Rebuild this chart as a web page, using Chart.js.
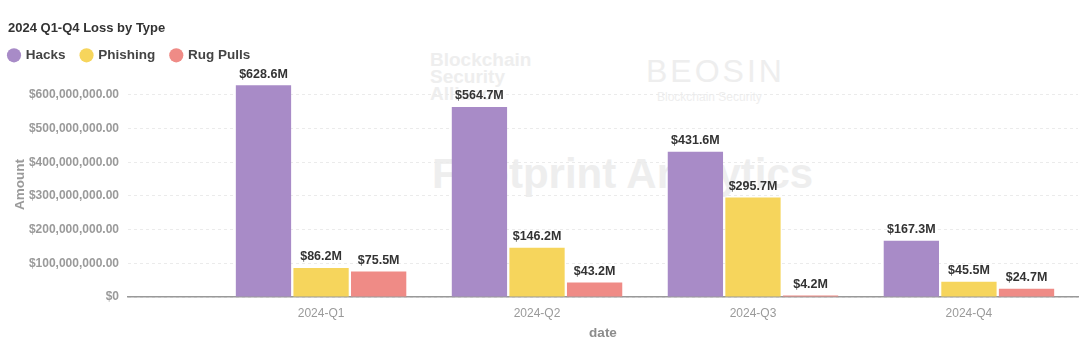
<!DOCTYPE html>
<html>
<head>
<meta charset="utf-8">
<script src="https://cdn.jsdelivr.net/npm/chart.js@4"></script>
<style>
  html, body { margin: 0; padding: 0; background: #fff; }
  #wrap { position: relative; width: 1080px; height: 351px; overflow: hidden; font-family: "Liberation Sans", Arial, sans-serif; }
  .wm { position: absolute; color: #eeeeee; font-weight: bold; white-space: nowrap; }
  canvas { position: absolute; left: 0; top: 0; }
</style>
</head>
<body>
<div id="wrap">
  <!-- watermarks -->
  <div class="wm" style="left:430px;top:51px;font-size:19px;line-height:17px;">Blockchain<br>Security<br>Alliance</div>
  <div class="wm" style="left:646px;top:53px;font-size:32px;font-weight:normal;letter-spacing:3px;">BEOSIN</div>
  <div class="wm" style="left:657px;top:90px;font-size:12px;font-weight:normal;">Blockchain Security</div>
  <div class="wm" style="left:432px;top:150px;font-size:42px;">Footprint Analytics</div>
  <canvas id="chart" width="1080" height="351"></canvas>
</div>
<script>
// 数据
const QUARTERS = ['2024-Q1', '2024-Q2', '2024-Q3', '2024-Q4'];
const HACKS = [628.6e6, 564.7e6, 431.6e6, 167.3e6];
const PHISHING = [86.2e6, 146.2e6, 295.7e6, 45.5e6];
const RUG_PULLS = [75.5e6, 43.2e6, 4.2e6, 24.7e6];
const Y_TICKS = [0, 100e6, 200e6, 300e6, 400e6, 500e6, 600e6];

const FONT = '"Liberation Sans", Arial, sans-serif';
const GREY = '#9a9a9a';

const fmtM = v => '$' + (v / 1e6).toFixed(1) + 'M';
const fmtAxis = v => v === 0 ? '$0' : '$' + v.toLocaleString('en-US', { minimumFractionDigits: 2 });
const toPoints = arr => arr.map((v, i) => ({ x: i, y: v }));

// 柱顶数值标签
const barLabels = {
  id: 'barLabels',
  afterDatasetsDraw(chart) {
    const ctx = chart.ctx;
    ctx.save();
    ctx.font = 'bold 12.5px ' + FONT;
    ctx.fillStyle = '#333';
    ctx.textAlign = 'center';
    ctx.textBaseline = 'bottom';
    chart.data.datasets.forEach((ds, di) => {
      chart.getDatasetMeta(di).data.forEach((bar, i) => {
        ctx.fillText(fmtM(ds.data[i].y), bar.x, bar.y - 5);
      });
    });
    ctx.restore();
  }
};

// 图例左移，与标题对齐
const legendShift = {
  id: 'legendShift',
  afterLayout(chart) {
    chart.legend.left -= 15;
    chart.legend.right -= 15;
  }
};

new Chart(document.getElementById('chart'), {
  type: 'bar',
  data: {
    datasets: [
      { label: 'Hacks', data: toPoints(HACKS), backgroundColor: '#a88bc7' },
      { label: 'Phishing', data: toPoints(PHISHING), backgroundColor: '#f6d55c' },
      { label: 'Rug Pulls', data: toPoints(RUG_PULLS), backgroundColor: '#ef8b86' }
    ]
  },
  options: {
    responsive: false,
    animation: false,
    layout: { padding: { left: 8, right: 2, top: 0, bottom: 6 } },
    datasets: { bar: { categoryPercentage: 0.8, barPercentage: 0.96 } },
    scales: {
      x: {
        type: 'linear',
        offset: false,
        min: -0.894,
        max: 3.505,
        afterBuildTicks: s => { s.ticks = QUARTERS.map((_, i) => ({ value: i })); },
        afterFit: s => { s.height = 48; },
        ticks: {
          callback: v => QUARTERS[v] || '',
          color: GREY,
          font: { family: FONT, size: 12 },
          padding: 9
        },
        grid: { display: false, drawTicks: false },
        border: { display: true, color: '#999', width: 1.5 },
        title: {
          display: true, text: 'date', color: '#8c8c8c',
          font: { family: FONT, size: 13.5, weight: 'bold' },
          padding: { top: 4 }
        }
      },
      y: {
        min: 0,
        max: 668e6,
        afterBuildTicks: s => { s.ticks = Y_TICKS.map(v => ({ value: v })); },
        afterFit: s => { s.width = 120; },
        ticks: {
          callback: v => fmtAxis(v),
          color: GREY,
          font: { family: FONT, size: 12, weight: 'bold' },
          padding: 9
        },
        grid: { color: '#ebebeb', drawTicks: false },
        border: { display: false, dash: [3, 3] },
        title: {
          display: true, text: 'Amount', color: GREY,
          font: { family: FONT, size: 13.5, weight: 'bold' },
          padding: { bottom: 2 }
        }
      }
    },
    plugins: {
      title: {
        display: true,
        text: '2024 Q1-Q4 Loss by Type',
        align: 'start',
        color: '#333',
        font: { family: FONT, size: 13, weight: 'bold' },
        padding: { top: 21, bottom: -4 }
      },
      legend: {
        display: true,
        position: 'top',
        align: 'start',
        labels: {
          usePointStyle: true,
          pointStyle: 'circle',
          boxWidth: 10,
          boxHeight: 10,
          padding: 16,
          color: '#444',
          font: { family: FONT, size: 13.5, weight: 'bold' }
        }
      },
      tooltip: { enabled: false }
    }
  },
  plugins: [barLabels, legendShift]
});
</script>
</body>
</html>
